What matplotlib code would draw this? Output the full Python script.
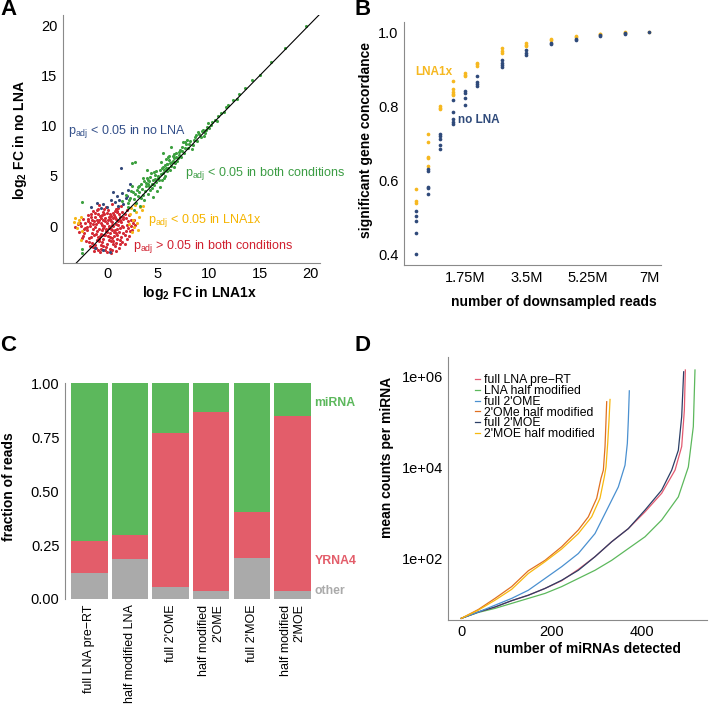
import numpy as np
import matplotlib
matplotlib.use("Agg")
import matplotlib.pyplot as plt

plt.rcParams["font.family"] = ["Liberation Sans", "DejaVu Sans"]
plt.rcParams["mathtext.fontset"] = "custom"
plt.rcParams["mathtext.rm"] = "Liberation Sans"
plt.rcParams["mathtext.bf"] = "Liberation Sans:bold"
plt.rcParams["mathtext.it"] = "Liberation Sans:italic"

# ---- panel A: log2 FC scatter ----
red_x = [-0.8, -0.1, 0.5, 1.1, 1.4, -1.4, -0.9, -0.4, 0.1, 0.6, 0.9, 1.5, 1.9,
         -1.9, -1.2, -0.7, -0.3, 0.2, 0.7, 1.2, 1.6, 2.1, -2.4, -1.6, -1.0, -0.6,
         -0.2, 0.3, 0.8, 1.3, 1.8, 2.3, -2.7, -1.9, -1.4, -0.9, -0.5, 0.0, 0.4,
         0.9, 1.4, 1.9, 2.5, -3.2, -2.2, -1.7, -1.2, -0.8, -0.3, 0.2, 0.6, 1.0,
         1.6, 2.0, 2.7, -2.8, -2.0, -1.5, -1.0, -0.6, -0.1, 0.3, 0.8, 1.2, 1.7,
         2.2, -2.4, -1.8, -1.3, -0.9, -0.4, 0.1, 0.5, 1.0, 1.4, 1.9, -2.1, -1.5,
         -1.0, -0.5, 0.0, 0.4, 0.9, 1.3, 1.7, -1.7, -1.1, -0.6, -0.1, 0.3, 0.8,
         1.2, -1.3, -0.7, -0.2, 0.4, 0.9, -0.4, 0.5, -0.2, 0.7, -1.1, 0.3, 1.1,
         -0.7, 0.0, 1.5, -1.5, 0.6, -0.9, 1.8, 0.2, -2.3, -0.3, 1.0, -1.2, 0.5,
         -1.2, -0.5, 0.4, 1.0, -1.7, -0.8, 0.1, 0.9, 1.6, -2.0, -1.4, -0.5, 0.4,
         1.3, 2.3, -2.3, -1.1, -0.2, 0.7, 1.6, -1.8, -0.8, 0.2, 1.0, 2.1, -1.4,
         -0.4, 0.6, 1.5, -0.9, 0.0, -2.6, -2.2, -1.0, 0.0, 0.8, -0.3, -1.6, 1.3,
         2.0, -0.6, 0.5, -1.3, 1.1, -0.1, 0.9, -0.8, 0.3, 1.3, -1.6, -2.5, 2.4,
         -0.4, 0.6, -1.9, 1.7, -0.6, 0.5, -2.9, 2.6]
red_y = [2.1, 1.9, 2.2, 1.8, 2.0, 1.5, 1.7, 1.4, 1.6, 1.3, 1.7, 1.4, 1.6,
         1.1, 1.3, 1.0, 1.2, 0.9, 1.1, 1.2, 0.9, 1.1, 0.7, 0.9, 0.6, 0.8,
         0.5, 0.7, 0.9, 0.6, 0.8, 0.6, 0.3, 0.5, 0.2, 0.4, 0.1, 0.3, 0.5,
         0.2, 0.4, 0.1, 0.3, -0.1, -0.2, 0.0, -0.1, -0.3, 0.0, -0.2, 0.0, -0.3,
         -0.1, -0.2, 0.1, -0.6, -0.4, -0.7, -0.5, -0.8, -0.5, -0.7, -0.4, -0.6, -0.9,
         -0.5, -1.0, -1.2, -0.9, -1.1, -1.3, -1.0, -1.2, -0.9, -1.1, -1.3, -1.5, -1.7,
         -1.4, -1.6, -1.8, -1.5, -1.7, -1.4, -1.8, -2.0, -2.2, -1.9, -2.1, -2.3, -2.0,
         -2.2, -2.5, -2.6, -2.4, -2.7, -2.5, -0.2, 0.4, 0.8, -0.6, 0.2, 1.2, 0.5,
         -1.0, -0.6, 0.0, 0.6, -1.5, 1.2, -0.5, 0.0, -0.3, -0.9, 1.4, -1.9, -0.4,
         0.9, 1.1, 1.0, 1.5, 0.3, 0.6, 0.6, 0.7, 0.7, -0.1, -0.3, -0.4, -0.3,
         -0.2, 0.0, -0.7, -0.8, -0.9, -1.0, -0.7, -1.6, -1.5, -1.4, -1.3, -1.0, -2.1,
         -2.0, -1.8, -1.6, -2.4, -2.6, 0.0, 0.3, 1.6, 1.3, 1.5, 1.7, 1.2, 0.9,
         0.5, 0.3, 0.1, 0.5, 0.1, -0.3, -0.7, -1.3, -1.1, -1.8, -1.1, -1.2, -0.4,
         0.6, 0.8, 0.7, 1.2, -2.3, -2.4, 0.2, 0.6]

green_x = [1.5, 2.0, 2.2, 2.5, 2.8, 3.0, 2.6, 1.8, 3.2, 3.4, 2.4, 3.6,
           3.8, 4.0, 4.2, 4.4, 4.6, 4.8, 3.5, 5.0, 5.2, 3.9, 4.5, 5.4, 4.1, 4.7,
           3.3, 5.1, 3.7, 4.3, 4.9, 5.5, 5.7, 5.9, 6.1, 6.3, 6.5, 6.7, 5.6, 6.0,
           6.2, 6.8, 7.0, 5.3, 6.6, 7.2, 5.8, 6.4, 7.1, 5.5, 6.9, 7.4, 7.6, 7.8,
           8.0, 8.2, 8.4, 8.6, 8.8, 9.0, 9.2, 9.4, 9.6, 9.8, 10.0, 7.5, 8.3, 8.9,
           9.5, 7.9, 9.9, 10.3, 10.6, 10.9, 11.2, 11.5, 11.9, 12.4, 13.0, 13.6,
           14.3, 15.0, 16.1, 17.5, 19.6, 10.8, 11.7, 12.8, -2.5, -2.5, -2.5, 2.4,
           2.7, 5.5, 6.3, 3.1, 4.6, 5.9, 2.9, 4.0, 6.6,
           2.1, 2.7, 3.1, 3.5, 3.8, 4.1, 4.4, 4.7, 5.0, 5.3, 5.6, 5.9, 6.2, 6.5,
           6.8, 7.1, 7.4, 7.7, 8.1, 8.5, 3.0, 3.6, 4.2, 4.8, 5.4, 6.0, 6.6, 7.3,
           2.3, 3.9, 4.5, 5.7, 6.1, 7.7, 8.7, 9.3, 9.7, 10.2, 2.0, 2.6, 3.3, 4.0,
           5.2, 5.8]
green_y = [2.5, 1.9, 2.8, 3.4, 2.3, 3.0, 1.6, 3.1, 2.0, 3.7, 4.0, 2.6,
           4.3, 3.2, 4.9, 3.8, 5.4, 4.4, 4.8, 5.0, 3.9, 5.6, 2.9, 5.8, 4.0, 4.7,
           4.2, 4.6, 3.5, 5.3, 3.5, 5.3, 6.1, 5.5, 6.6, 6.0, 7.0, 6.3, 4.8, 6.9,
           5.6, 7.3, 6.8, 6.4, 5.9, 7.6, 6.7, 6.4, 7.1, 5.9, 6.5, 7.9, 7.3, 8.2,
           7.8, 8.5, 8.1, 8.9, 8.5, 9.2, 8.9, 9.6, 9.3, 9.9, 9.8, 8.4, 7.7, 9.4,
           9.0, 8.6, 10.3, 10.4, 10.6, 11.0, 11.3, 11.4, 12.1, 12.6, 13.2, 13.8,
           14.6, 15.1, 16.4, 17.8, 20.0, 10.5, 11.9, 12.7, 2.4, -2.3, -2.7, 6.3,
           6.4, 7.3, 7.9, 4.0, 4.1, 6.2, 3.6, 4.6, 6.8,
           2.6, 3.2, 3.4, 3.1, 4.0, 4.5, 4.2, 5.1, 4.8, 5.2, 5.6, 6.2, 6.3, 6.5,
           6.9, 7.4, 7.5, 7.8, 8.2, 8.6, 3.9, 4.5, 3.6, 5.5, 4.6, 5.8, 7.2, 6.9,
           3.5, 4.8, 4.6, 5.0, 7.0, 8.4, 9.1, 9.5, 9.6, 10.1, 2.3, 2.7, 2.8, 4.2,
           5.6, 5.8]

blue_x = [-1.0, 0.0, -0.4, 1.2, 1.5, 1.8, 0.8, 1.0, 2.0, 1.6, 0.4, -1.6, 1.4,
          -1.2, -0.4, 0.3, 2.2, 1.1, 0.6, 1.9, -0.6]
blue_y = [2.3, 1.9, 2.2, 2.6, 3.3, 2.8, 2.4, 3.0, 3.6, 2.2, 2.6, 1.9, 5.8,
          -2.2, -2.4, -2.6, 4.2, 2.0, 3.4, 3.0, 1.8]

yellow_x = [-3.2, -2.8, -3.0, -2.6, -2.9, -2.5, -2.6, -3.3, 2.2, 2.5, 2.8, 3.1,
            3.4, 2.6, 2.9, 3.5, 2.3, 3.2, 2.7, 2.1, 3.0, 2.4]
yellow_y = [0.8, 0.6, -0.2, 0.9, 0.3, -0.5, -1.4, 0.4, 1.2, 0.6, 1.4, 0.9,
            1.6, -0.1, 0.3, 2.0, 1.8, 1.9, 2.1, 0.2, -0.4, -0.6]

fit_slope = 1.035
fit_intercept = -0.53

# ---- panel B: concordance vs downsampled reads (millions) ----
reads_m = [0.35, 0.7, 1.05, 1.4, 1.75, 2.1, 2.8, 3.5, 4.2, 4.9, 5.6, 6.3, 7.0]
lna1x_conc = [
    [0.577, 0.541, 0.545],
    [0.727, 0.705, 0.664, 0.660, 0.639],
    [0.800, 0.797, 0.793],
    [0.868, 0.846, 0.839, 0.833, 0.830],
    [0.889, 0.885, 0.882],
    [0.918, 0.913, 0.909],
    [0.957, 0.950, 0.943],
    [0.971, 0.966, 0.962],
    [0.982, 0.978],
    [0.990, 0.988],
    [0.996, 0.994],
    [0.999, 0.998],
    [1.0],
]
nolna_conc = [
    [0.518, 0.505, 0.491, 0.460, 0.402],
    [0.631, 0.627, 0.584, 0.579, 0.563],
    [0.727, 0.720, 0.712, 0.696, 0.684],
    [0.817, 0.786, 0.766, 0.759, 0.752],
    [0.841, 0.837, 0.822, 0.804],
    [0.882, 0.866, 0.860, 0.855],
    [0.925, 0.917, 0.911, 0.905],
    [0.952, 0.945, 0.938],
    [0.972, 0.967],
    [0.982, 0.978],
    [0.992, 0.990],
    [0.997, 0.996],
    [1.0],
]

# ---- panel C: fraction of reads ----
samples = ["full LNA pre\u2212RT", "half modified LNA", "full 2'OME",
           "half modified\n2'OME", "full 2'MOE", "half modified\n2'MOE"]
frac_other = [0.120, 0.187, 0.057, 0.036, 0.189, 0.037]
frac_yrna4 = [0.150, 0.110, 0.713, 0.830, 0.214, 0.813]
frac_mirna = [0.730, 0.703, 0.230, 0.134, 0.597, 0.150]

# ---- panel D: mean counts per miRNA (log10) ----
curve_names = ["full LNA pre\u2212RT", "LNA half modified", "full 2'OME",
               "2'OMe half modified", "full 2'MOE", "2'MOE half modified"]
curve_colors = ["#E35A70", "#5CB85C", "#4A90D0", "#E07020", "#2B3F66", "#F7B80F"]
lna_full_x = [0, 37.6, 74.5, 111.3, 148.1, 185.0, 221.8, 258.6, 295.4, 332.3,
              369.1, 406.0, 442.8, 472.3, 487.0, 492.9, 495.1]
lna_full_y = [0.67, 0.81, 0.92, 1.06, 1.18, 1.33, 1.50, 1.75, 2.03, 2.36,
              2.65, 3.02, 3.43, 3.94, 4.46, 5.26, 6.15]
lna_half_x = [0, 37.6, 74.5, 111.3, 148.1, 185.0, 221.8, 258.6, 295.4, 332.3,
              369.1, 406.0, 442.8, 479.6, 501.7, 512.7, 516.4]
lna_half_y = [0.67, 0.80, 0.89, 1.00, 1.11, 1.22, 1.37, 1.55, 1.73, 1.95,
              2.21, 2.47, 2.84, 3.35, 4.01, 4.90, 6.15]
ome_full_x = [0, 37.6, 74.5, 111.3, 148.1, 185.0, 221.8, 258.6, 295.4, 325.0,
              347.0, 361.8, 366.9, 369.1, 371.3]
ome_full_y = [0.67, 0.81, 0.96, 1.11, 1.29, 1.55, 1.81, 2.10, 2.54, 3.13,
              3.57, 4.05, 4.53, 5.04, 5.69]
ome_half_x = [0, 37.6, 74.5, 111.3, 148.1, 185.0, 221.8, 258.6, 280.7, 299.2,
              308.7, 313.9, 317.6, 319.8, 321.3]
ome_half_y = [0.67, 0.865, 1.11, 1.37, 1.72, 1.95, 2.25, 2.62, 2.91, 3.32,
              3.76, 3.94, 4.46, 5.04, 5.45]
moe_full_x = [0, 37.6, 74.5, 111.3, 148.1, 185.0, 221.8, 258.6, 295.4, 332.3,
              369.1, 406.0, 442.8, 464.9, 479.6, 487.0, 491.4]
moe_full_y = [0.67, 0.81, 0.92, 1.06, 1.18, 1.33, 1.51, 1.73, 2.03, 2.36,
              2.65, 3.06, 3.50, 3.94, 4.38, 5.12, 6.11]
moe_half_x = [0, 37.6, 74.5, 111.3, 148.1, 185.0, 221.8, 258.6, 288.1, 306.5,
              316.1, 319.8, 323.5, 326.4, 328.7]
moe_half_y = [0.67, 0.85, 1.07, 1.31, 1.66, 1.92, 2.20, 2.54, 2.91, 3.32,
              3.79, 4.01, 4.53, 5.04, 5.50]

W, H = 709, 707
fig = plt.figure(figsize=(W / 100, H / 100), dpi=100)


def px_axes(left, top, right, bottom):
    return fig.add_axes([left / W, 1 - bottom / H, (right - left) / W, (bottom - top) / H])


def style(ax, bottom=True):
    for s in ["top", "right"]:
        ax.spines[s].set_visible(False)
    ax.spines["left"].set_color("#8a8a8a")
    ax.spines["bottom"].set_color("#8a8a8a")
    ax.spines["bottom"].set_visible(bottom)
    ax.tick_params(length=0, labelsize=10.5, pad=4, colors="black")


axis_font = dict(fontsize=10, fontweight="bold")

# panel A
axA = px_axes(62.7, 15, 320, 263.3)
style(axA)
axA.tick_params(axis="x", pad=3)
axA.scatter(red_x, red_y, s=5, color="#D42A35", lw=0)
axA.scatter(yellow_x, yellow_y, s=5, color="#F6B617", lw=0)
axA.scatter(blue_x, blue_y, s=5, color="#33497A", lw=0)
axA.scatter(green_x, green_y, s=5, color="#3CA03F", lw=0)
xs = np.array([-4.4, 21.0])
axA.plot(xs, fit_slope * xs + fit_intercept, color="black", lw=0.8)
axA.set_xlim(-4.39, 20.96)
axA.set_ylim(-3.72, 21.06)
axA.set_xticks([0, 5, 10, 15, 20])
axA.set_yticks([0, 5, 10, 15, 20])
padj = r"$\mathrm{p_{adj}}$"
axA.text(-3.84, 9.4, padj + " < 0.05 in no LNA", color="#34508A", fontsize=9, va="center")
axA.text(7.66, 5.27, padj + " < 0.05 in both conditions", color="#3C9D44", fontsize=9, va="center")
axA.text(4.04, 0.6, padj + " < 0.05 in LNA1x", color="#F5B400", fontsize=9, va="center")
axA.text(2.5, -2.0, padj + " > 0.05 in both conditions", color="#D0202F", fontsize=9, va="center")
fig.text(0.0282, 0.802, r"$\mathbf{log}_\mathbf{2}$ FC in no LNA", rotation=90,
         ha="center", va="center", **axis_font)
fig.text(0.282, 0.586, r"$\mathbf{log}_\mathbf{2}$ FC in LNA1x", ha="center", va="center",
         **axis_font)

# panel B
axB = px_axes(404, 21.7, 661, 265)
style(axB)
for xv, ys in zip(reads_m, lna1x_conc):
    axB.scatter([xv] * len(ys), ys, s=7, color="#F6B820", lw=0, zorder=2)
for xv, ys in zip(reads_m, nolna_conc):
    axB.scatter([xv] * len(ys), ys, s=7, color="#2F4A7A", lw=0, zorder=3)
axB.set_xlim(0.02, 7.33)
axB.set_ylim(0.373, 1.028)
axB.set_xticks([1.75, 3.5, 5.25, 7.0])
axB.set_xticklabels(["1.75M", "3.5M", "5.25M", "7M"])
axB.set_yticks([0.4, 0.6, 0.8, 1.0])
axB.set_yticklabels(["0.4", "0.6", "0.8", "1.0"])
axB.text(0.34, 0.892, "LNA1x", color="#F6B820", fontsize=8.5, fontweight="bold", va="center")
axB.text(1.57, 0.763, "no LNA", color="#2F4A7A", fontsize=8.5, fontweight="bold", va="center")
fig.text(0.516, 0.802, "significant gene concordance", rotation=90, ha="center",
         va="center", **axis_font)
fig.text(0.781, 0.573, "number of downsampled reads", ha="center", va="center", **axis_font)

# panel C
axC = px_axes(65, 383.3, 316.8, 599)
style(axC, bottom=False)
pos = np.arange(len(samples))
axC.bar(pos, frac_other, width=0.9, color="#AAAAAA", lw=0)
axC.bar(pos, frac_yrna4, width=0.9, bottom=frac_other, color="#E35D6A", lw=0)
axC.bar(pos, frac_mirna, width=0.9, bottom=np.array(frac_other) + np.array(frac_yrna4),
        color="#5CB85C", lw=0)
axC.set_xlim(-0.6, 5.6)
axC.set_ylim(0, 1)
axC.set_yticks([0, 0.25, 0.5, 0.75, 1.0])
axC.set_yticklabels(["0.00", "0.25", "0.50", "0.75", "1.00"])
axC.set_xticks(pos)
axC.set_xticklabels(samples, rotation=90, fontsize=9, ha="center", va="top",
                    multialignment="right")
tr = axC.get_yaxis_transform()
axC.text(0.99, 0.909, "miRNA", color="#5CB85C", transform=tr, fontsize=8.8,
         fontweight="bold", va="center", clip_on=False)
axC.text(0.99, 0.175, "YRNA4", color="#E35D6A", transform=tr, fontsize=8.8,
         fontweight="bold", va="center", clip_on=False)
axC.text(0.99, 0.036, "other", color="#AAAAAA", transform=tr, fontsize=8.8,
         fontweight="bold", va="center", clip_on=False)
fig.text(0.0132, 0.311, "fraction of reads", rotation=90, ha="center", va="center",
         **axis_font)

# panel D
axD = px_axes(448.3, 357.3, 707.3, 619.7)
style(axD)
curves = [(lna_full_x, lna_full_y), (lna_half_x, lna_half_y), (ome_full_x, ome_full_y),
          (ome_half_x, ome_half_y), (moe_full_x, moe_full_y), (moe_half_x, moe_half_y)]
draw_order = [1, 0, 4, 2, 3, 5]
lines = {}
for i in draw_order:
    cx, cy = curves[i]
    lines[i], = axD.plot(cx, 10 ** np.array(cy), color=curve_colors[i], lw=0.9,
                         label=curve_names[i])
axD.set_yscale("log")
axD.set_xlim(-28.7, 543.6)
axD.set_ylim(10 ** 0.64, 10 ** 6.43)
axD.set_yticks([1e2, 1e4, 1e6])
axD.set_yticklabels(["1e+02", "1e+04", "1e+06"])
axD.minorticks_off()
axD.set_xticks([0, 200, 400])
axD.legend([lines[i] for i in range(6)], curve_names, loc="upper left",
           bbox_to_anchor=(0.103, 0.935), frameon=False, fontsize=8.8,
           handlelength=0.4, handletextpad=0.35, labelspacing=-0.1, borderpad=0,
           borderaxespad=0)
fig.text(0.546, 0.353, "mean counts per miRNA", rotation=90, ha="center", va="center",
         **axis_font)
fig.text(0.828, 0.082, "number of miRNAs detected", ha="center", va="center", **axis_font)

# panel letters
for letter, x, y in [("A", 0.012, 0.986), ("B", 0.511, 0.986),
                     ("C", 0.012, 0.511), ("D", 0.511, 0.511)]:
    fig.text(x, y, letter, fontsize=16, fontweight="bold", ha="center", va="center")

fig.savefig("out.png", dpi=100)
